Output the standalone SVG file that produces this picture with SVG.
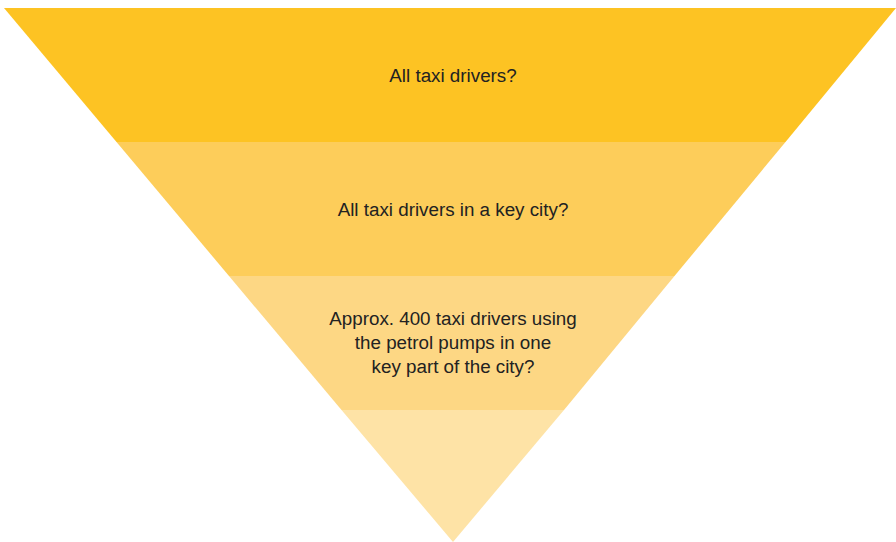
<svg xmlns="http://www.w3.org/2000/svg" width="896" height="542" viewBox="0 0 896 542">
<style>
.lbl{font-family:"Liberation Sans",Arial,sans-serif;font-size:18.8px;fill:#222222;text-anchor:middle}
</style>
<rect width="896" height="542" fill="#ffffff"/>
<g id="band1"><polygon points="4,8 896,8 785.5,142 116.5,142" fill="#FDC323"/><text class="lbl" x="453" y="81.5">All taxi drivers?</text></g>
<g id="band2"><polygon points="116.5,142 785.5,142 674.5,276 229,276" fill="#FDCD5A"/><text class="lbl" x="453" y="215.5">All taxi drivers in a key city?</text></g>
<g id="band3"><polygon points="229,276 674.5,276 564,410 341.5,410" fill="#FDD784"/><text class="lbl"><tspan x="453" y="325">Approx. 400 taxi drivers using</tspan><tspan x="453" y="349">the petrol pumps in one</tspan><tspan x="453" y="373">key part of the city?</tspan></text></g>
<g id="band4"><polygon points="341.5,410 564,410 453,542" fill="#FEE3A6"/></g>
<g id="connectors"></g>
</svg>
